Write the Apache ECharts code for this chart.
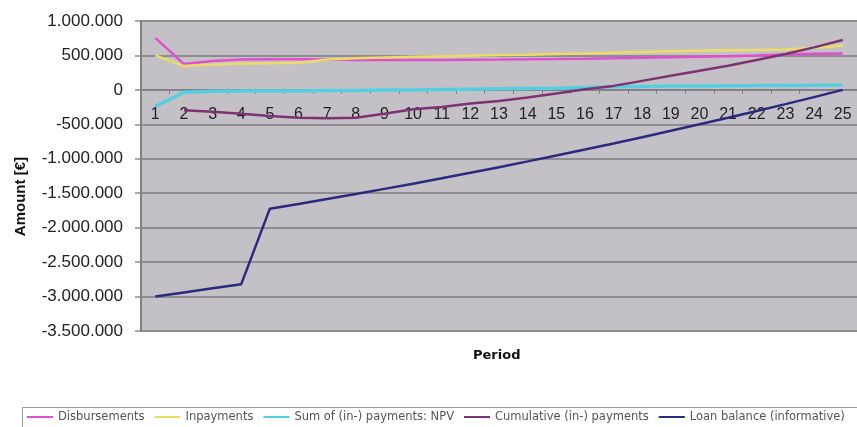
<!DOCTYPE html>
<html>
<head>
<meta charset="utf-8">
<script src="https://cdn.jsdelivr.net/npm/echarts@6/dist/echarts.min.js"></script>
<style>
  html, body { margin: 0; padding: 0; background: #ffffff; }
  #chart { width: 857px; height: 427px; }
</style>
</head>
<body>
<div id="chart"></div>
<script>
// Periods 1..25
const periods = ['1','2','3','4','5','6','7','8','9','10','11','12','13','14','15','16','17','18','19','20','21','22','23','24','25'];

// Amounts in euro
const disbursements = [755000, 375000, 420000, 440000, 445000, 445000, 440000, 435000, 435000, 433000,
  435000, 438000, 440000, 443000, 447000, 452000, 458000, 465000, 473000, 481000,
  490000, 500000, 515000, 525000, 530000];

const inpayments = [500000, 345000, 370000, 380000, 385000, 395000, 440000, 460000, 470000, 480000,
  490000, 495000, 505000, 510000, 520000, 530000, 540000, 550000, 560000, 568000,
  575000, 580000, 585000, 610000, 645000];

const npvSum = [-240000, -35000, -20000, -15000, -15000, -15000, -10000, -10000, 0, 0,
  5000, 10000, 15000, 20000, 25000, 35000, 45000, 50000, 55000, 58000,
  60000, 62000, 65000, 68000, 70000];

const cumulative = [null, -296000, -316000, -345000, -379000, -403000, -413000, -403000, -345000, -282000,
  -248000, -199000, -160000, -112000, -53000, 10000, 58000, 131000, 204000, 277000,
  350000, 433000, 520000, 617000, 724000];

const loanBalance = [-3000000, -2940000, -2880000, -2820000, -1724000, -1655000, -1584000, -1512000, -1437000, -1361000,
  -1283000, -1203000, -1122000, -1038000, -953000, -866000, -777000, -687000, -594000, -500000,
  -404000, -306000, -207000, -105000, 0];

const seriesNames = ['Disbursements', 'Inpayments', 'Sum of (in-) payments: NPV', 'Cumulative (in-) payments', 'Loan balance (informative)'];
const seriesColors = ['#df4fcf', '#ecdc66', '#55cfe0', '#7d3373', '#2b2a7e'];
const seriesData = [disbursements, inpayments, npvSum, cumulative, loanBalance];
const seriesWidths = [2.5, 2.5, 3.5, 2.5, 2.5];

const GRID_TOP = 21, GRID_BOTTOM = 96, CHART_H = 427;

// Thousands separated by dots, e.g. -1.500.000
function fmt(v) {
  const s = Math.abs(v).toFixed(0).replace(/\B(?=(\d{3})+(?!\d))/g, '.');
  return (v < 0 ? '-' : '') + s;
}

const chart = echarts.init(document.getElementById('chart'), null, { renderer: 'canvas' });

chart.setOption({
  animation: false,
  backgroundColor: '#ffffff',
  textStyle: { fontFamily: 'DejaVu Sans' },
  grid: {
    left: 141, right: -5, top: GRID_TOP, bottom: GRID_BOTTOM,
    show: true, backgroundColor: '#c3c1c6', borderWidth: 0
  },
  xAxis: {
    type: 'category',
    data: periods,
    boundaryGap: true,
    axisLine: { onZero: false, lineStyle: { color: '#7f7f85', width: 1.5 } },
    axisTick: { show: true, length: 4, lineStyle: { color: '#7f7f85' } },
    axisLabel: { color: '#222', fontSize: 16, margin: 17, fontFamily: 'Liberation Sans', interval: 0 },
    splitLine: { show: false }
  },
  yAxis: {
    type: 'value',
    min: -3500000, max: 1000000, interval: 500000,
    axisLine: { show: true, lineStyle: { color: '#808086', width: 2 } },
    axisTick: { show: true, length: 6, lineStyle: { color: '#8a8a8e', width: 1.5 } },
    axisLabel: { color: '#222', fontSize: 17, margin: 18, fontFamily: 'Liberation Sans', formatter: fmt },
    splitLine: { show: true, lineStyle: { color: '#8d8c90', width: 1.8 } }
  },
  legend: {
    data: seriesNames,
    left: 27, top: 411,
    orient: 'horizontal',
    icon: 'rect',
    itemWidth: 26, itemHeight: 2,
    itemGap: 10,
    padding: 0,
    borderWidth: 0,
    textStyle: { color: '#555', fontSize: 11.5, fontFamily: 'DejaVu Sans' }
  },
  graphic: [
    {
      type: 'rect', left: 20, top: 405,
      shape: { width: 835, height: 22 },
      style: { fill: 'none', stroke: '#9a9a9a', lineWidth: 1 }
    },
    {
      type: 'text', left: 13, top: 157, rotation: Math.PI / 2,
      style: { text: 'Amount [€]', font: 'bold 15px "Liberation Sans"', fill: '#111' }
    },
    {
      type: 'text', left: 473, top: 349,
      style: { text: 'Period', font: 'bold 13px "DejaVu Sans"', fill: '#111' }
    }
  ],
  series: seriesNames.map((name, i) => ({
    name: name,
    type: 'line',
    data: seriesData[i],
    symbol: 'none',
    smooth: false,
    connectNulls: false,
    itemStyle: { color: seriesColors[i] },
    lineStyle: { color: seriesColors[i], width: seriesWidths[i] }
  }))
});

// Lift the category axis from the bottom edge of the grid up to the value 0 line
const zeroY = chart.convertToPixel({ yAxisIndex: 0 }, 0);
const gridBottomY = CHART_H - GRID_BOTTOM;
chart.setOption({ xAxis: { offset: zeroY - gridBottomY } });
</script>
</body>
</html>
